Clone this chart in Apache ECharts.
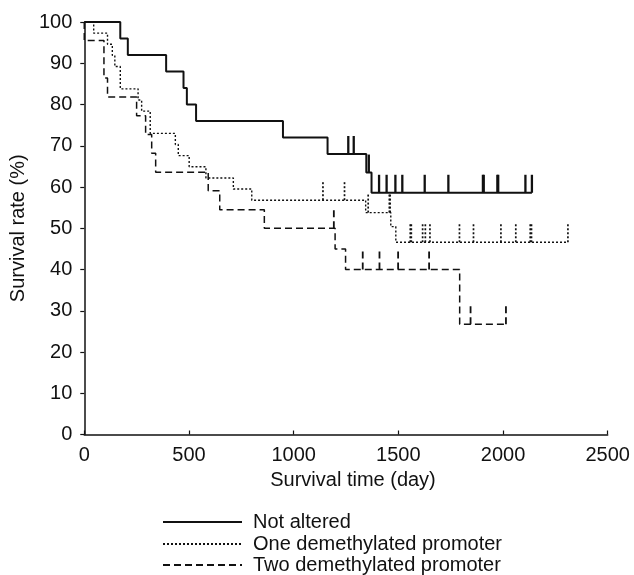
<!DOCTYPE html>
<html>
<head>
<meta charset="utf-8">
<script src="https://cdn.jsdelivr.net/npm/echarts@6/dist/echarts.min.js"></script>
<style>html,body{margin:0;padding:0;background:#fff;}#c{width:634px;height:575px;}</style>
</head>
<body>
<div id="c"></div>
<script>
const seriesNames = ['Not altered', 'One demethylated promoter', 'Two demethylated promoter'];
const xTicks = [0, 500, 1000, 1500, 2000, 2500];
const yTicks = [0, 10, 20, 30, 40, 50, 60, 70, 80, 90, 100];

// Not altered
const notAlteredDays = [0, 172, 208, 391, 474, 490, 534, 949, 1162, 1347, 1372, 2138];
const notAlteredSurv = [100, 96, 92, 88, 84, 80, 76, 72, 68, 63.5, 58.6, 58.6];
const notAlteredCensor = [1261, 1287, 1359, 1408, 1444, 1486, 1519, 1626, 1739, 1904, 1908, 1973, 1977, 2107, 2138];

// One demethylated promoter
const oneDays = [0, 45, 111, 134, 146, 172, 257, 274, 315, 435, 449, 501, 581, 712, 800, 1344, 1464, 1488, 2310];
const oneSurv = [100, 97.3, 94.6, 91.9, 89.2, 83.8, 81.1, 78.4, 73.0, 70.3, 67.6, 64.9, 62.2, 59.5, 56.8, 53.8, 50.4, 46.6, 46.6];
const oneCensor = [1140, 1243, 1356, 1457, 1461, 1557, 1562, 1616, 1629, 1651, 1792, 1859, 1990, 2061, 2130, 2136, 2310];

// Two demethylated promoter
const twoDays = [0, 0, 94, 111, 250, 293, 322, 341, 592, 647, 860, 1198, 1248, 1793, 2014];
const twoSurv = [100, 95.5, 86.4, 81.8, 77.3, 72.7, 68.2, 63.6, 59.1, 54.5, 50.0, 45.0, 40.0, 26.7, 26.7];
const twoCensor = [1192, 1330, 1410, 1499, 1647, 1845, 2014];

function survAt(days, surv, t) {
  let s = surv[0];
  for (let i = 0; i < days.length; i++) if (days[i] <= t) s = surv[i];
  return s;
}
function pairs(a, b) { return a.map((v, i) => [v, b[i]]); }
function censorPts(c, d, s) { return c.map(t => [t, survAt(d, s, t)]); }

const INK = '#111';
const styles = [
  { width: 2, type: 'solid', dash: null },
  { width: 1.4, type: [2, 2], dash: [2, 2] },
  { width: 1.5, type: [7, 4], dash: [7, 4] }
];

function stepSeries(name, days, surv, st) {
  return {
    name: name, type: 'line', step: 'end', symbol: 'none', showSymbol: false,
    data: pairs(days, surv),
    lineStyle: { color: INK, width: st.width, type: st.type },
    itemStyle: { color: INK },
    z: 3
  };
}
function censorSeries(name, pts, st) {
  return {
    name: name, type: 'custom', data: pts,
    encode: { x: 0, y: 1 },
    renderItem: function (params, api) {
      const p = api.coord([api.value(0), api.value(1)]);
      return {
        type: 'line',
        shape: { x1: p[0], y1: p[1], x2: p[0], y2: p[1] - 18 },
        style: { stroke: INK, lineWidth: st.width + 0.3, lineDash: st.dash }
      };
    },
    z: 4
  };
}

const font = 'Liberation Sans, Arial, sans-serif';
const legendTops = [507, 529, 550];
function legendFor(i) {
  return {
    show: true,
    data: [seriesNames[i]],
    orient: 'vertical', left: 157, top: legendTops[i],
    itemWidth: 79, itemHeight: 14, itemGap: 0,
    itemStyle: { opacity: 0 },
    textStyle: { fontSize: 20, color: INK, fontFamily: font, padding: [0, 0, 0, 6] },
    selectedMode: false
  };
}

const chart = echarts.init(document.getElementById('c'), null, { renderer: 'canvas' });
chart.setOption({
  animation: false,
  backgroundColor: '#fff',
  textStyle: { fontFamily: font },
  grid: { left: 75.7, right: 26.3, top: 22, bottom: 140.5, containLabel: false },
  xAxis: {
    type: 'value', min: xTicks[0], max: xTicks[xTicks.length - 1], interval: 500,
    name: 'Survival time (day)', nameLocation: 'middle', nameGap: 35,
    nameTextStyle: { fontSize: 20, color: INK, fontFamily: font, padding: [0, 0, 0, 14] },
    axisLine: { lineStyle: { color: INK, width: 1.5 } },
    axisTick: { inside: true, length: 4, lineStyle: { color: INK, width: 1.2 } },
    axisLabel: { fontSize: 20, color: INK, margin: 11, fontFamily: font, formatter: v => String(v) },
    splitLine: { show: false }
  },
  yAxis: {
    type: 'value', min: yTicks[0], max: yTicks[yTicks.length - 1], interval: 10,
    name: 'Survival rate (%)', nameLocation: 'middle', nameGap: 52,
    nameTextStyle: { fontSize: 20, color: INK, fontFamily: font },
    axisLine: { show: true, lineStyle: { color: INK, width: 1.5 } },
    axisTick: { show: true, inside: false, length: 4, lineStyle: { color: INK, width: 1.2 } },
    axisLabel: { fontSize: 20, color: INK, margin: 12, fontFamily: font, formatter: v => String(v) },
    splitLine: { show: false }
  },
  legend: [legendFor(0), legendFor(1), legendFor(2)],
  series: [
    stepSeries(seriesNames[0], notAlteredDays, notAlteredSurv, styles[0]),
    stepSeries(seriesNames[1], oneDays, oneSurv, styles[1]),
    stepSeries(seriesNames[2], twoDays, twoSurv, styles[2]),
    censorSeries('c0', censorPts(notAlteredCensor, notAlteredDays, notAlteredSurv), styles[0]),
    censorSeries('c1', censorPts(oneCensor, oneDays, oneSurv), styles[1]),
    censorSeries('c2', censorPts(twoCensor, twoDays, twoSurv), styles[2])
  ]
});
</script>
</body>
</html>
